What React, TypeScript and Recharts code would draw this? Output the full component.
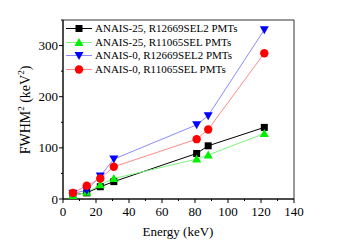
import { LineChart, Line, XAxis, YAxis, ReferenceArea } from "recharts";

const energy = [6, 14.4, 22.6, 30.8, 81, 88, 122];
const anais25R12669 = [8, 12, 24, 34, 89, 104, 140];
const anais25R11065 = [7, 13, 28, 40, 78, 86, 128];
const anais0R12669 = [11, 17, 45, 78, 145, 163, 331];
const anais0R11065 = [12, 26, 40, 63, 117, 136, 285];

const xTicks = [0, 10, 20, 30, 40, 50, 60, 70, 80, 90, 100, 110, 120, 130, 140];
const yTicks = [0, 50, 100, 150, 200, 250, 300, 350];

const series = [
  { key: "a25r12669", name: "ANAIS-25, R12669SEL2 PMTs", values: anais25R12669, line: "#000000", mark: "#000000", shape: "square" },
  { key: "a25r11065", name: "ANAIS-25, R11065SEL PMTs", values: anais25R11065, line: "#7cf57c", mark: "#00f000", shape: "up" },
  { key: "a0r12669", name: "ANAIS-0, R12669SEL2 PMTs", values: anais0R12669, line: "#8a8aff", mark: "#0000ff", shape: "down" },
  { key: "a0r11065", name: "ANAIS-0, R11065SEL PMTs", values: anais0R11065, line: "#ff8a8a", mark: "#ff0000", shape: "circle" },
];

const data = energy.map((e, i) => {
  const row: Record<string, number> = { e };
  series.forEach((s) => (row[s.key] = s.values[i]));
  return row;
});

const FONT = "'Liberation Serif', 'DejaVu Serif', serif";

function Marker({ cx, cy, shape, color }: any) {
  if (cx == null || cy == null) return null;
  if (shape === "square") return <rect x={cx - 3.5} y={cy - 3.5} width={7} height={7} fill={color} />;
  if (shape === "circle") return <circle cx={cx} cy={cy} r={4.2} fill={color} />;
  if (shape === "up")
    return <polygon points={`${cx},${cy - 4.5} ${cx + 4.5},${cy + 3.5} ${cx - 4.5},${cy + 3.5}`} fill={color} />;
  return <polygon points={`${cx},${cy + 4.5} ${cx + 4.5},${cy - 3.5} ${cx - 4.5},${cy - 3.5}`} fill={color} />;
}

function XTick({ x, y, payload }: any) {
  const major = payload.value % 20 === 0;
  return (
    <g>
      <line x1={x} x2={x} y1={y} y2={y + (major ? 4 : 2)} stroke="#000" />
      {major && (
        <text x={x} y={y + 17} textAnchor="middle" fontSize={13} fontFamily={FONT} fill="#000">
          {payload.value}
        </text>
      )}
    </g>
  );
}

function YTick({ x, y, payload }: any) {
  const major = payload.value % 100 === 0 && payload.value <= 300;
  return (
    <g>
      <line x1={x} x2={x - (major ? 4 : 2)} y1={y} y2={y} stroke="#000" />
      {major && (
        <text x={x - 5} y={y + 4.5} textAnchor="end" fontSize={13} fontFamily={FONT} fill="#000">
          {payload.value}
        </text>
      )}
    </g>
  );
}

function LegendBox() {
  return (
    <div
      style={{
        position: "absolute",
        left: 65,
        top: 22,
        fontFamily: FONT,
        fontSize: 11,
        lineHeight: "13.5px",
        color: "#000",
      }}
    >
      {series.map((s) => (
        <div key={s.key} style={{ display: "flex", alignItems: "center", whiteSpace: "nowrap" }}>
          <svg width={28} height={13}>
            <line x1={1} x2={27} y1={6.5} y2={6.5} stroke={s.line} />
            <Marker cx={14} cy={6.5} shape={s.shape} color={s.mark} />
          </svg>
          <span style={{ marginLeft: 2 }}>{s.name}</span>
        </div>
      ))}
    </div>
  );
}

export default function App() {
  return (
    <div style={{ position: "absolute", left: 0, top: 0, width: 357, height: 250, background: "#fff" }}>
      <LineChart width={357} height={250} data={data} margin={{ top: 20, right: 63, bottom: 0, left: 0 }}>
        <ReferenceArea x1={0} x2={140} y1={0} y2={350} fill="none" stroke="#333" strokeWidth={1} ifOverflow="visible" />
        <XAxis
          dataKey="e"
          type="number"
          domain={[0, 140]}
          ticks={xTicks}
          height={51}
          tickSize={0}
          tickMargin={0}
          tickLine={false}
          tick={<XTick />}
          stroke="#000"
          interval={0}
        />
        <YAxis
          type="number"
          domain={[0, 350]}
          ticks={yTicks}
          width={63}
          tickSize={0}
          tickMargin={0}
          tickLine={false}
          tick={<YTick />}
          stroke="#000"
          interval={0}
        />
        {series.map((s) => (
          <Line
            key={s.key}
            dataKey={s.key}
            name={s.name}
            stroke={s.line}
            strokeWidth={1}
            isAnimationActive={false}
            dot={(p: any) => <Marker key={`${s.key}-${p.index}`} cx={p.cx} cy={p.cy} shape={s.shape} color={s.mark} />}
            activeDot={false}
          />
        ))}
        <text x={178} y={236} textAnchor="middle" fontSize={13} fontFamily={FONT} fill="#000">
          Energy (keV)
        </text>
        <text transform="translate(30,110) rotate(-90)" textAnchor="middle" fontSize={14} fontFamily={FONT} fill="#000">
          FWHM
          <tspan fontSize={9} dy={-6}>2</tspan>
          <tspan dy={6}> (keV</tspan>
          <tspan fontSize={9} dy={-6}>2</tspan>
          <tspan dy={6}>)</tspan>
        </text>
      </LineChart>
      <LegendBox />
    </div>
  );
}
